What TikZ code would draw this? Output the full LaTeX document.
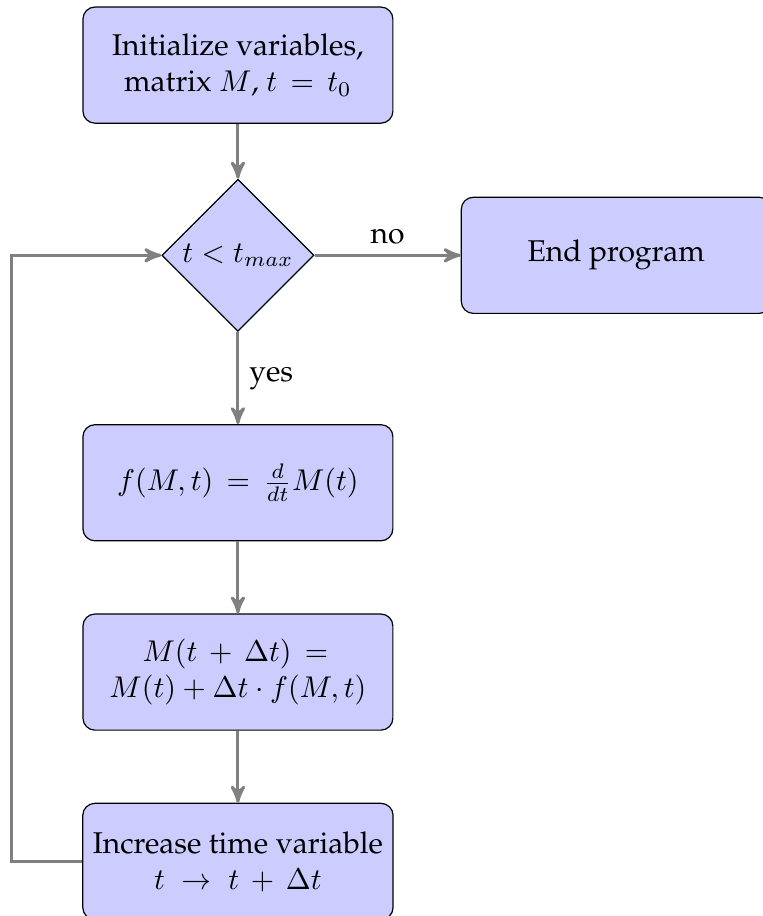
\documentclass[tikz,border=0pt]{standalone}
\usepackage{amsmath}
\usepackage[T1]{fontenc}
\usepackage{palatino}
\usepackage{tikz}
\usetikzlibrary{positioning,arrows,shapes}

\begin{document}
\begin{tikzpicture}[block/.style={draw, rectangle, rounded corners, fill=blue!20, align=center, minimum width=103.3pt, minimum height=38.7pt},
  decision/.style={draw, diamond, fill=blue!20, inner sep=0pt, minimum size=50.7pt},
  line/.style={draw=gray, line width=1pt, -stealth'}]
\useasboundingbox (0,0) rectangle (254.3pt,-305.3pt);

\node[block] (init) at (79.3pt,-21.7pt) {Initialize variables,\\ matrix $M$, $t \,=\, t_0$};
\node[decision, below=18.3pt of init] (test) {$t < t_{max}$};
\node[block, right=48.7pt of test] (stop) {End program};
\node[block, below=30.7pt of test] (deriv) {$f(M,t) \,=\, \frac{d}{dt}M(t)$};
\node[block, below=24pt of deriv] (euler) {$M(t \,+\, \Delta t) \,=\,$\\ $M(t) + \Delta t \cdot f(M,t)$};
\node[block, below=24pt of euler] (incr) {Increase time variable\\ $t \;\rightarrow\; t \,+\, \Delta t$};

\draw[line] (init) -- (test);
\draw[line] (test) -- node[above] {no} (stop);
\draw[line] (test) -- node[right] {yes} (deriv);
\draw[line] (deriv) -- (euler);
\draw[line] (euler) -- (incr);
\draw[line] (incr.west) -- ++(-23.7pt,0) |- (test.west);

\end{tikzpicture}
\end{document}
